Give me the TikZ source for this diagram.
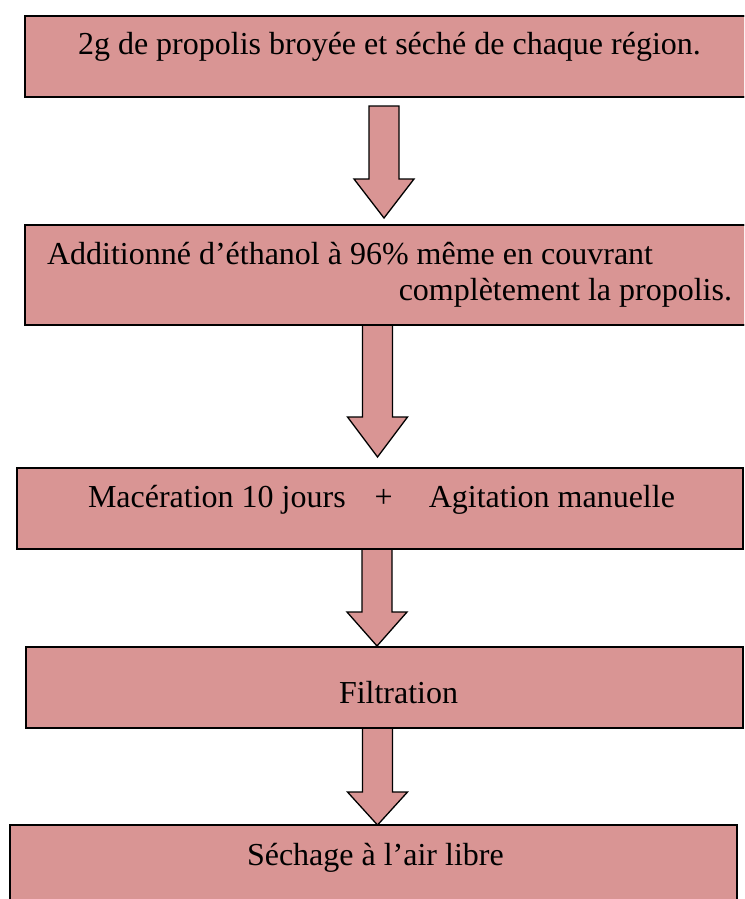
\documentclass[tikz,border=0pt]{standalone}
\usepackage{fontspec}
\setmainfont{Liberation Serif}
\usetikzlibrary{calc}
\definecolor{boxpink}{HTML}{D99594}
\tikzset{
  stepbox/.style={draw=black, line width=1.6pt, fill=boxpink, rectangle, inner sep=0pt, outer sep=0pt, anchor=north west},
  steptext/.style={font=\fontsize{32}{36}\selectfont, inner sep=0pt, outer sep=0pt, text=black},
  blockarrow/.style={draw=black, line width=1.3pt, fill=boxpink, line join=miter},
}
\newcommand\blockarr[3]{%
  \draw[blockarrow] let \p1=(#1), \p2=(#2) in
    (\x1-15pt,\y1) -- (\x1-15pt,\y2+#3) -- (\x1-30pt,\y2+#3) -- (\x2,\y2)
    -- (\x1+30pt,\y2+#3) -- (\x1+15pt,\y2+#3) -- (\x1+15pt,\y1) -- cycle;}
\begin{document}
\begin{tikzpicture}[x=1pt,y=-1pt]
  \path[use as bounding box] (0,0) rectangle (744,899);
  \clip (0,0) rectangle (744,899);
  % boxes
  \node[stepbox, minimum width=750pt, minimum height=81pt] (b1) at (25,16) {};
  \node[stepbox, minimum width=750pt, minimum height=100pt] (b2) at (25,225) {};
  \node[stepbox, minimum width=726pt, minimum height=81pt] (b3) at (17,468) {};
  \node[stepbox, minimum width=717pt, minimum height=81pt] (b4) at (26,647) {};
  \node[stepbox, minimum width=727pt, minimum height=100pt] (b5) at (10,825) {};
  % arrow axes
  \coordinate (c1) at (384,0);
  \coordinate (c2) at (377.5,0);
  \coordinate (c3) at (377,0);
  \coordinate (c4) at (377.5,0);
  \coordinate (a1s) at ($(b1.south -| c1)+(0,9)$);
  \coordinate (a1t) at ($(b2.north -| c1)+(0,-7)$);
  \coordinate (a2s) at (b2.south -| c2);
  \coordinate (a2t) at ($(b3.north -| c2)+(0,-11)$);
  \coordinate (a3s) at (b3.south -| c3);
  \coordinate (a3t) at ($(b4.north -| c3)+(0,-1)$);
  \coordinate (a4s) at (b4.south -| c4);
  \coordinate (a4t) at (b5.north -| c4);
  \blockarr{a1s}{a1t}{39pt}
  \blockarr{a2s}{a2t}{40pt}
  \blockarr{a3s}{a3t}{34pt}
  \blockarr{a4s}{a4t}{33pt}
  % redraw box borders over arrow tops
  \foreach \b in {b1,b2,b3,b4,b5}{\draw[line width=1.6pt] (\b.north west) rectangle (\b.south east);}
  % texts
  \node[steptext, anchor=base west] (t1) at (78,55) {2g de propolis broyée et séché de chaque région.};
  \node[steptext, anchor=base west] (t2a) at (47,264) {Additionné d’éthanol à 96\% même en couvrant};
  \node[steptext, anchor=base east] (t2b) at (732,300) {complètement la propolis.};
  \node[steptext, anchor=base west] (t3) at (88,507) {Macération 10 jours\hspace{29pt}+\hspace{36pt}Agitation manuelle};
  \node[steptext, anchor=base west] (t4) at (339,703) {Filtration};
  \node[steptext, anchor=base west] (t5) at (247,865) {Séchage à l’air libre};
\end{tikzpicture}
\end{document}
